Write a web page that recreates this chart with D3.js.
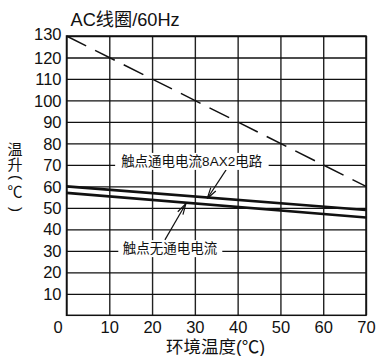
<!DOCTYPE html>
<html>
<head>
<meta charset="utf-8">
<script src="https://cdn.jsdelivr.net/npm/d3@7"></script>
<style>
body { margin: 0; background: #fff; }
text { font-family: "Liberation Sans", Arial, "Noto Sans CJK SC", sans-serif; fill: #111; }
</style>
</head>
<body>
<div id="chart"></div>
<script>
// data
const xTicks = [0, 10, 20, 30, 40, 50, 60, 70];
const yTicks = [10, 20, 30, 40, 50, 60, 70, 80, 90, 100, 110, 120, 130];
const ambientTemp = [0, 70];
const limitRise = [130, 60];
const riseEnergized = [60, 49];
const riseNoCurrent = [57, 45.5];

const titleText = 'AC线圈/60Hz';
const xTitle = '环境温度(℃)';
const yTitle = '温升(℃)';
const labelEnergized = '触点通电电流8AX2电路';
const labelNoCurrent = '触点无通电电流';

const width = 377, height = 356;
const margin = { top: 36, right: 11, bottom: 40.7, left: 66.5 };

const svg = d3.select('#chart')
    .append('svg')
    .attr('width', width)
    .attr('height', height);

const x = d3.scaleLinear().domain([0, 70]).range([margin.left, width - margin.right]);
const y = d3.scaleLinear().domain([0, 130]).range([height - margin.bottom, margin.top]);

// grid
svg.append('g')
    .attr('transform', `translate(0, ${height - margin.bottom})`)
    .call(d3.axisBottom(x).tickValues(xTicks).tickSize(-(y.range()[0] - y.range()[1])).tickPadding(6))
    .call(g => g.select('.domain').remove())
    .call(g => g.selectAll('line').attr('stroke', '#222').attr('stroke-width', 1.4))
    .call(g => g.selectAll('text')
        .attr('font-size', 16.5)
        .attr('dx', d => d === 0 ? -9 : 0)
        .style('font-family', '"Liberation Sans", Arial, sans-serif'));

svg.append('g')
    .attr('transform', `translate(${margin.left}, 0)`)
    .call(d3.axisLeft(y).tickValues(yTicks).tickSize(-(x.range()[1] - x.range()[0])).tickPadding(5))
    .call(g => g.select('.domain').remove())
    .call(g => g.selectAll('line').attr('stroke', '#111').attr('stroke-width', 1.3))
    .call(g => g.selectAll('text')
        .attr('font-size', 16.5)
        .attr('dy', d => d === 130 ? '0.2em' : '0.34em')
        .style('font-family', '"Liberation Sans", Arial, sans-serif'));

svg.selectAll('.tick text').attr('fill', '#111');

svg.append('rect')
    .attr('x', x(0)).attr('y', y(130))
    .attr('width', x(70) - x(0)).attr('height', y(0) - y(130))
    .attr('fill', 'none').attr('stroke', '#111').attr('stroke-width', 1.5);

// lines
const line = vals => d3.line()
    .x((d, i) => x(ambientTemp[i]))
    .y(d => y(d))(vals);

svg.append('path')
    .attr('d', line(limitRise))
    .attr('fill', 'none').attr('stroke', '#111')
    .attr('stroke-width', 1.5).attr('stroke-dasharray', '22,10');

[riseEnergized, riseNoCurrent].forEach(vals => {
    svg.append('path')
        .attr('d', line(vals))
        .attr('fill', 'none').attr('stroke', '#111').attr('stroke-width', 2.6);
});

// annotations
function label(text, cx, cy, padX) {
    const g = svg.append('g');
    const t = g.append('text')
        .attr('x', x(cx)).attr('y', y(cy))
        .attr('text-anchor', 'middle')
        .attr('dy', '0.36em')
        .attr('font-size', 13.5)
        .text(text);
    const b = t.node().getBBox();
    g.insert('rect', 'text')
        .attr('x', b.x - padX).attr('y', b.y - 1)
        .attr('width', b.width + padX * 2).attr('height', b.height + 2)
        .attr('fill', '#fff');
}

function arrow(tx, ty, hx, series) {
    const f = d3.scaleLinear().domain(ambientTemp).range(series);
    const x0 = x(tx), y0 = y(ty), x1 = x(hx), y1 = y(f(hx)) + 1;
    const a = Math.atan2(y1 - y0, x1 - x0);
    const len = 11, hw = 3;
    const bx = x1 - len * Math.cos(a), by = y1 - len * Math.sin(a);
    const px = -Math.sin(a) * hw, py = Math.cos(a) * hw;
    svg.append('line')
        .attr('x1', x0).attr('y1', y0).attr('x2', x1).attr('y2', y1)
        .attr('stroke', '#111').attr('stroke-width', 1.2);
    svg.append('path')
        .attr('d', `M${x1},${y1}L${bx + px},${by + py}M${x1},${y1}L${bx - px},${by - py}`)
        .attr('fill', 'none').attr('stroke', '#111').attr('stroke-width', 1.2);
}

arrow(37.3, 67.7, 32.9, riseEnergized);
arrow(23.0, 35.1, 27.9, riseNoCurrent);
label(labelEnergized, 29.25, 71.8, 6);
label(labelNoCurrent, 24.2, 31.2, 4.5);

// titles
svg.append('text')
    .attr('x', 70.5).attr('y', 26)
    .attr('font-size', 18.2)
    .text(titleText);

svg.append('text')
    .attr('x', 215.5).attr('y', 353)
    .attr('text-anchor', 'middle')
    .attr('font-size', 17.5)
    .text(xTitle);

// vertical y title: one glyph per row, brackets turned like vertical forms
const fs = 15, cxT = 15;
const yTitleRows = [149.4, 164.5, 177.5, 192, 209.5];
const yt = svg.append('text').attr('font-size', fs);
Array.from(yTitle).forEach((ch, i) => {
    const cy = yTitleRows[i];
    const turned = ch === '(' || ch === ')';
    const s = yt.append('tspan').text(ch);
    if (turned) {
        // glyph spins round its origin; shift so its middle sits on the column
        s.attr('x', cxT - 0.26 * fs).attr('y', cy - 0.167 * fs).attr('rotate', 90);
    } else {
        s.attr('x', cxT - fs / 2).attr('y', cy + 0.36 * fs);
    }
});
</script>
</body>
</html>
